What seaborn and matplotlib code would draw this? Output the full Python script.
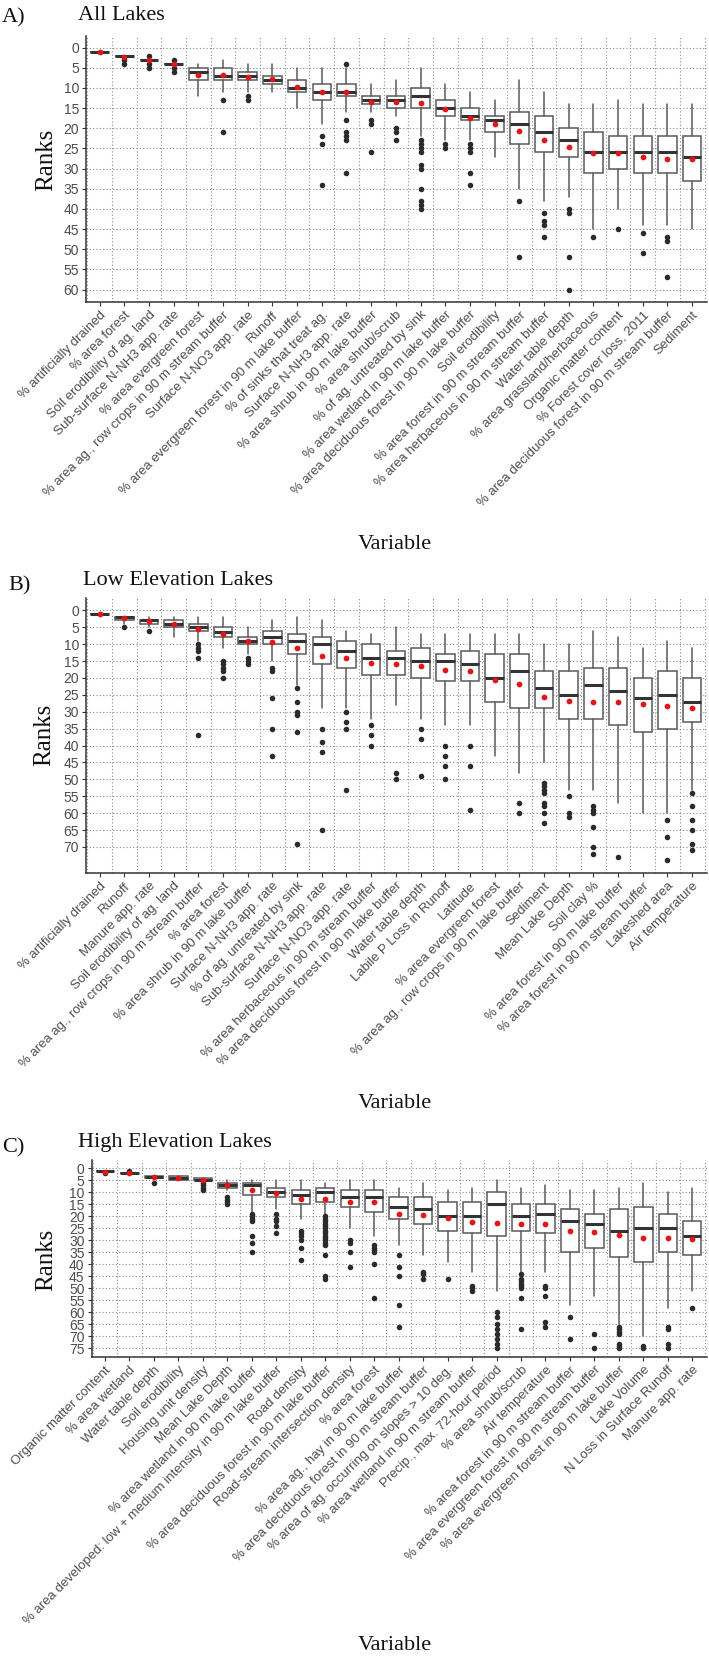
import numpy as np
import pandas as pd
import matplotlib
matplotlib.use("Agg")
import matplotlib.pyplot as plt
import matplotlib.transforms as mtrans
import seaborn as sns

# ---------------- Panel A: All Lakes ----------------
a_labels = ["% artificially drained", "% area forest", "Soil erodibility of ag. land",
            "Sub-surface N-NH3 app. rate", "% area evergreen forest",
            "% area ag., row crops in 90 m stream buffer", "Surface N-NO3 app. rate", "Runoff",
            "% area evergreen forest in 90 m lake buffer", "% of sinks that treat ag.",
            "Surface N-NH3 app. rate", "% area shrub in 90 m lake buffer", "% area shrub/scrub",
            "% of ag. untreated by sink", "% area wetland in 90 m lake buffer",
            "% area deciduous forest in 90 m lake buffer", "Soil erodibility",
            "% area forest in 90 m stream buffer", "% area herbaceous in 90 m stream buffer",
            "Water table depth", "% area grassland/herbaceous", "Organic matter content",
            "% Forest cover loss, 2011", "% area deciduous forest in 90 m stream buffer", "Sediment"]
a_low = [1, 2, 3, 4, 4, 3, 4, 4, 5, 5, 5, 9, 8, 5, 9, 11, 13, 8, 11, 14, 14, 13, 14, 14, 14]
a_q1 = [1, 2, 3, 4, 5, 5, 6, 7, 8, 9, 9, 12, 12, 10, 13, 15, 17, 16, 17, 20, 21, 22, 22, 22, 22]
a_med = [1, 2, 3, 4, 6, 7, 7, 8, 10, 11, 11, 13, 13, 12, 15, 17, 18, 19, 21, 23, 26, 26, 26, 26, 27]
a_q3 = [1, 2, 3, 4, 8, 8, 8, 9, 11, 13, 12, 14, 15, 15, 17, 18, 21, 24, 26, 27, 31, 30, 31, 31, 33]
a_high = [1, 2, 3, 4, 12, 11, 11, 11, 15, 19, 16, 16, 17, 22, 23, 23, 27, 35, 38, 37, 45, 40, 44, 44, 45]
a_mean = [1.0, 2.3, 3.1, 4.0, 6.8, 6.9, 7.2, 7.8, 9.7, 11.0, 11.0, 13.4, 13.4, 13.8, 15.2, 17.5,
          18.9, 20.6, 23.0, 24.6, 26.2, 26.2, 27.1, 27.5, 27.7]
a_out = [[], [3, 4], [2, 4, 5], [3, 5, 6], [], [13, 21], [12, 13], [], [], [22, 24, 34],
         [4, 18, 21, 22, 23, 31], [18, 19, 26], [20, 21, 23],
         [23, 24, 25, 26, 29, 30, 35, 38, 39, 40], [24, 25], [24, 25, 26, 31, 34], [],
         [38, 52], [41, 43, 44, 47], [40, 41, 52, 60], [47], [45], [46, 51], [47, 48, 57], []]

# ---------------- Panel B: Low Elevation Lakes ----------------
b_labels = ["% artificially drained", "Runoff", "Manure app. rate", "Soil erodibility of ag. land",
            "% area ag., row crops in 90 m stream buffer", "% area forest",
            "% area shrub in 90 m lake buffer", "Surface N-NH3 app. rate",
            "% of ag. untreated by sink", "Sub-surface N-NH3 app. rate", "Surface N-NO3 app. rate",
            "% area herbaceous in 90 m stream buffer", "% area deciduous forest in 90 m lake buffer",
            "Water table depth", "Labile P Loss in Runoff", "Latitude", "% area evergreen forest",
            "% area ag., row crops in 90 m lake buffer", "Sediment", "Mean Lake Depth",
            "Soil clay %", "% area forest in 90 m lake buffer", "% area forest in 90 m stream buffer",
            "Lakeshed area", "Air temperature"]
b_low = [1, 2, 2, 2, 2, 2, 5, 3, 2, 3, 6, 7, 5, 7, 7, 7, 7, 7, 10, 10, 6, 8, 11, 9, 11]
b_q1 = [1, 2, 3, 3, 4, 5, 8, 6, 7, 8, 9, 10, 12, 11, 13, 12, 13, 13, 18, 18, 17, 17, 20, 18, 20]
b_med = [1, 2, 3, 4, 5, 6.5, 9, 8, 9, 10, 12, 14, 14, 15, 15, 16, 20, 18, 23, 25, 22, 24, 26, 25, 27]
b_q3 = [1, 3, 4, 5, 6, 8, 10, 10, 13, 16, 17, 19, 19, 20, 21, 21, 27, 29, 29, 32, 32, 34, 36, 35, 33]
b_high = [1, 4, 5, 8, 9, 11, 13, 15, 22, 29, 29, 32, 28, 32, 34, 34, 43, 48, 45, 53, 53, 57, 60, 60, 53]
b_mean = [1.0, 2.3, 3.3, 3.9, 5.6, 6.9, 9.1, 9.4, 11.2, 13.4, 14.1, 15.6, 15.9, 16.6, 17.6, 17.9,
          20.6, 21.9, 25.7, 26.7, 27.1, 27.2, 27.8, 28.4, 28.9]
b_out = [[], [5], [6], [], [10, 11, 12, 14, 37], [15, 16, 17, 18, 20], [14, 15, 16],
         [17, 18, 26, 35, 43], [23, 27, 30, 31, 36, 69], [35, 39, 42, 65], [30, 33, 35, 53],
         [34, 37, 40], [48, 50], [35, 38, 49], [40, 43, 46, 50], [40, 46, 59], [], [57, 60],
         [51, 52, 53, 54, 57, 58, 60, 63], [55, 60, 61], [58, 59, 60, 64, 70, 72], [73], [],
         [62, 67, 74], [54, 58, 62, 65, 69, 71]]

# ---------------- Panel C: High Elevation Lakes ----------------
c_labels = ["Organic matter content", "% area wetland", "Water table depth", "Soil erodibility",
            "Housing unit density", "Mean Lake Depth", "% area wetland in 90 m lake buffer",
            "% area developed: low + medium intensity in 90 m lake buffer", "Road density",
            "% area deciduous forest in 90 m lake buffer", "Road-stream intersection density",
            "% area forest", "% area ag., hay in 90 m lake buffer",
            "% area deciduous forest in 90 m stream buffer",
            "% area of ag. occurring on slopes > 10 deg.", "% area wetland in 90 m stream buffer",
            "Precip., max. 72-hour period", "% area shrub/scrub", "Air temperature",
            "% area forest in 90 m stream buffer", "% area evergreen forest in 90 m stream buffer",
            "% area evergreen forest in 90 m lake buffer", "Lake Volume",
            "N Loss in Surface Runoff", "Manure app. rate"]
c_low = [1, 2, 3, 3, 4, 5, 5, 5, 5, 6, 5, 5, 8, 6, 9, 8, 5, 8, 7, 9, 9, 8, 6, 10, 8]
c_q1 = [1, 2, 3, 3, 4, 6, 6, 8, 9, 8, 9, 9, 12, 12, 14, 14, 10, 15, 15, 17, 19, 17, 16, 19, 22]
c_med = [1, 2, 3.5, 4, 5, 7, 7, 10, 11, 10, 12, 12, 16, 17, 20, 20, 15, 20, 19, 22, 23, 26, 25, 25, 28]
c_q3 = [1, 2, 4, 5, 5, 8, 11, 12, 15, 14, 16, 18, 21, 23, 26, 27, 28, 26, 27, 35, 33, 37, 39, 35, 36]
c_high = [1, 2, 4, 5, 5, 9, 18, 17, 21, 19, 25, 28, 32, 36, 39, 43, 51, 43, 43, 57, 53, 65, 70, 58, 51]
c_mean = [1.4, 1.8, 3.5, 4.0, 4.7, 7.0, 9.2, 10.4, 12.8, 12.8, 13.9, 14.2, 19.0, 19.4, 20.6, 22.2,
          22.6, 23.0, 23.2, 26.1, 26.5, 27.9, 28.9, 28.9, 29.6]
c_out = [[2], [1], [6], [], [6, 7, 8, 9], [12, 13, 14, 15], [19, 20, 21, 22, 28, 31, 35],
         [19, 21, 22, 24, 27], [26, 27, 28, 30, 33, 38],
         [20, 21, 22, 23, 24, 25, 26, 27, 28, 29, 30, 31, 32, 36, 45, 46],
         [30, 31, 35, 41], [32, 33, 34, 35, 40, 54], [36, 41, 45, 57, 66], [43, 44, 46], [46],
         [49, 50, 51], [60, 62, 65, 67, 69, 71, 73, 75], [44, 46, 47, 48, 49, 50, 54, 67],
         [49, 50, 53, 64, 66], [62, 71], [69, 75], [66, 67, 68, 69, 73, 74, 75], [74, 75],
         [66, 67, 73, 75], [58]]

# ---------------- style ----------------
sns.set_theme(style="white")
plt.rcParams["font.family"] = ["Liberation Sans", "DejaVu Sans"]

W, H = 709, 1657
fig = plt.figure(figsize=(W / 100, H / 100), dpi=100)
SANS = ["Liberation Sans", "DejaVu Sans"]
SERIF = ["Liberation Serif", "DejaVu Serif"]
TXT = "#4D4D4D"


def rect(l, r, t, b):
    return [l / W, 1 - b / H, (r - l) / W, (b - t) / H]


def panel(box, labels, lo, q1, med, q3, hi, mean, out, ylim, ymax_tick):
    ax = fig.add_axes(rect(*box))
    n = len(labels)
    stats = [dict(whislo=lo[i], q1=q1[i], med=med[i], q3=q3[i], whishi=hi[i], fliers=[])
             for i in range(n)]
    ax.bxp(stats, positions=list(range(n)), widths=0.75, patch_artist=True,
           showfliers=False, showcaps=False,
           boxprops=dict(facecolor="white", edgecolor="#5a5a5a", linewidth=1.1),
           medianprops=dict(color="#333333", linewidth=2.2, solid_capstyle="butt"),
           whiskerprops=dict(color="#5a5a5a", linewidth=1.1), zorder=2)
    ox = [i for i in range(n) for _ in out[i]]
    oy = [v for i in range(n) for v in out[i]]
    sns.scatterplot(x=ox, y=oy, ax=ax, color="#2b2b2b", s=16, linewidth=0, zorder=3,
                    legend=False)
    sns.scatterplot(x=list(range(n)), y=mean, ax=ax, color="#ee1111", s=17, linewidth=0,
                    zorder=4, legend=False)
    ax.set_xlim(-0.55, n - 1 + 0.6)
    ax.set_ylim(*ylim)
    ax.set_yticks(np.arange(0, ymax_tick + 1, 5))
    ax.set_xticks(range(n))
    ax.set_xticks(np.arange(-0.5, n, 1.0), minor=True)
    ax.set_xticklabels(labels, rotation=45, ha="right", rotation_mode="anchor",
                       fontsize=9.5, color=TXT, family=SANS)
    off = mtrans.ScaledTranslation(5 / 100, -5 / 100, fig.dpi_scale_trans)
    for lab in ax.get_xticklabels():
        lab.set_transform(lab.get_transform() + off)
    for t in ax.get_yticklabels():
        t.set_fontsize(10)
        t.set_color(TXT)
        t.set_family(SANS)
    ax.grid(False)
    ax.yaxis.grid(True, which="major", linestyle=(0, (1, 2)), color="#8a8a8a", linewidth=0.8)
    ax.xaxis.grid(True, which="minor", linestyle=(0, (1, 2)), color="#8a8a8a", linewidth=0.8)
    ax.set_axisbelow(True)
    ax.tick_params(axis="both", which="major", length=3, width=0.8, color="#333333", pad=2,
                   bottom=True, left=True)
    ax.tick_params(axis="x", which="minor", length=0)
    for s in ["top", "right"]:
        ax.spines[s].set_visible(False)
    for s in ["left", "bottom"]:
        ax.spines[s].set_color("#333333")
        ax.spines[s].set_linewidth(1.1)
    ax.set_xlabel("")
    ax.set_ylabel("")
    return ax


panel((86, 707, 36, 302), a_labels, a_low, a_q1, a_med, a_q3, a_high, a_mean, a_out,
      (63.1, -2.9), 60)
panel((86, 707, 598, 873), b_labels, b_low, b_q1, b_med, b_q3, b_high, b_mean, b_out,
      (77.7, -3.65), 70)
panel((91.5, 707, 1160, 1357), c_labels, c_low, c_q1, c_med, c_q3, c_high, c_mean, c_out,
      (78.6, -3.5), 75)


def ftext(x, y, s, size, **kw):
    fig.text(x / W, 1 - y / H, s, fontsize=size, family=SERIF, color="#111111", **kw)


# panel letters and titles
ftext(2, 22, "A)", 16, va="baseline")
ftext(78, 20, "All Lakes", 16, va="baseline")
ftext(8, 590, "B)", 16, va="baseline")
ftext(83, 585, "Low Elevation Lakes", 16, va="baseline")
ftext(2, 1152, "C)", 16, va="baseline")
ftext(78, 1147, "High Elevation Lakes", 16, va="baseline")

# axis titles
ftext(46, 160, "Ranks", 18, rotation=90, ha="center", va="center")
ftext(44, 735, "Ranks", 18, rotation=90, ha="center", va="center")
ftext(46, 1260, "Ranks", 18, rotation=90, ha="center", va="center")
ftext(395, 549, "Variable", 16, ha="center", va="baseline")
ftext(395, 1108, "Variable", 16, ha="center", va="baseline")
ftext(395, 1650, "Variable", 16, ha="center", va="baseline")

fig.savefig("out.png", dpi=100)
